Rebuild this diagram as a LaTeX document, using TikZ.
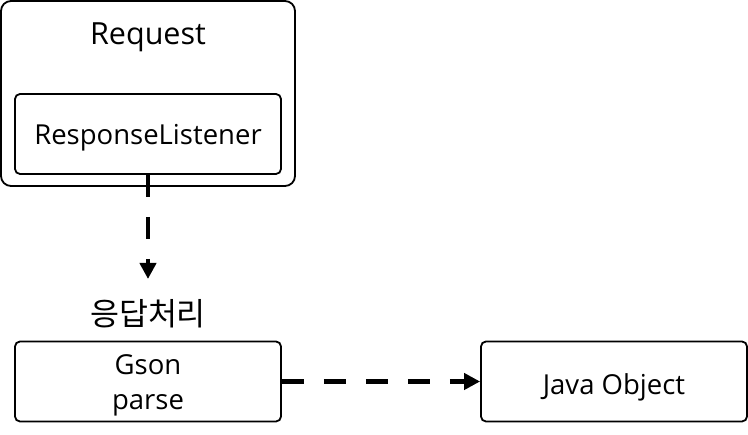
\documentclass[tikz,border=0pt]{standalone}
\usepackage{fontspec}
\setmainfont{Open Sans}
\newfontfamily\krfont{Noto Sans CJK KR}
\usetikzlibrary{arrows.meta}
\begin{document}
\begin{tikzpicture}[x=1pt,y=-1pt,
  box/.style={draw, line width=1.8pt, rounded corners=5pt, minimum width=266pt, minimum height=80pt, inner sep=0pt},
  lbl/.style={anchor=base, inner sep=0pt, font=\fontsize{27.5}{33}\selectfont},
  flow/.style={line width=4.5pt, dash pattern=on 22pt off 20pt, -{Triangle[length=16pt,width=16pt]}}
]
\useasboundingbox (0,0) rectangle (748,435);
\node[box, rounded corners=10pt, minimum width=294pt, minimum height=185pt] (req) at (148,93.5) {};
\node[lbl, font=\fontsize{30.5}{36}\selectfont] (reqlbl) at (148,45) {Request};
\node[box] (rl) at (148,134) {};
\node[lbl] (rltext) at (148,145) {ResponseListener};
\coordinate (tip) at (148,279);
\draw[flow] (rl.south) -- (tip);
\node[lbl, font=\krfont\fontsize{31.5}{36}\selectfont] (kr) at (148,326) {응답처리};
\node[box] (gson) at (148,381.5) {};
\node[lbl] (gson1) at (148,375) {Gson};
\node[lbl] (gson2) at (148,410) {parse};
\node[box] (java) at (614,381.5) {};
\node[lbl] (javatext) at (614,395) {Java Object};
\draw[flow] (gson.east) -- (java.west);
\end{tikzpicture}
\end{document}
